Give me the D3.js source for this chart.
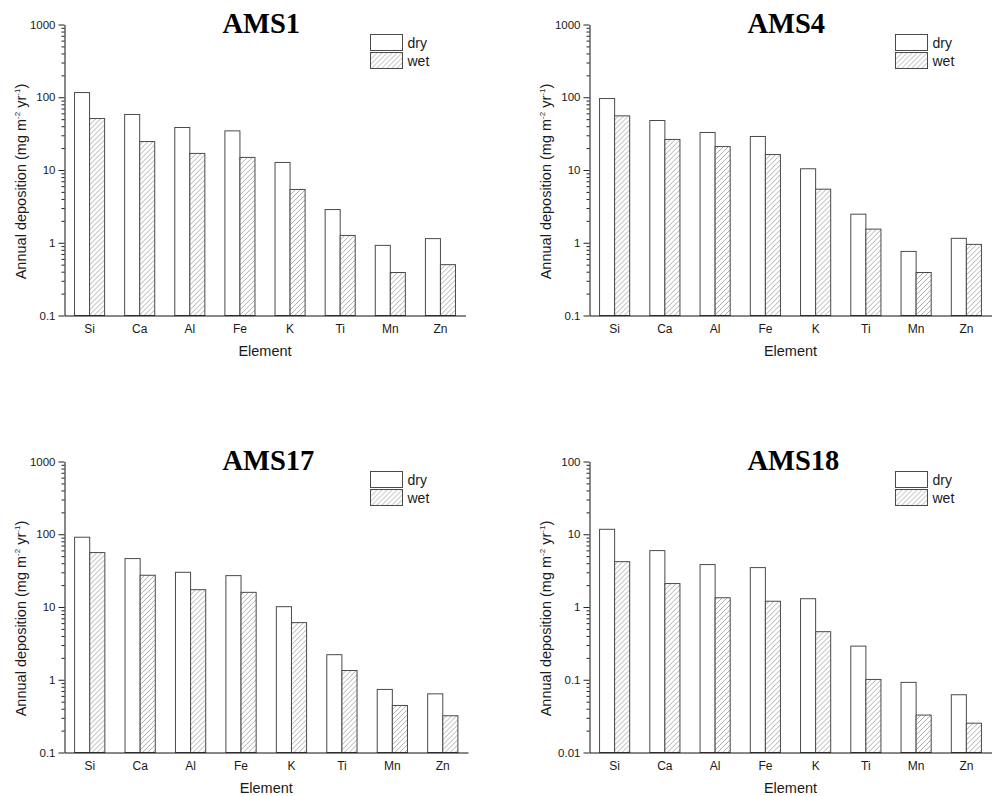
<!DOCTYPE html>
<html>
<head>
<meta charset="utf-8">
<script src="https://cdn.jsdelivr.net/npm/d3@7"></script>
<style>
  html, body { margin: 0; padding: 0; background: #fff; }
  svg { display: block; font-family: "Liberation Sans", Arial, sans-serif; }
</style>
</head>
<body>
<svg id="chart" width="994" height="796"></svg>
<script>
// Elements on the x axis and the two deposition types
const elements = ["Si", "Ca", "Al", "Fe", "K", "Ti", "Mn", "Zn"];
const seriesNames = ["dry", "wet"];
const stationNames = ["AMS1", "AMS4", "AMS17", "AMS18"];

// Annual deposition, mg m-2 yr-1
const ams1Dry  = [116, 58, 38.4, 34.5, 12.7, 2.86, 0.92, 1.14];
const ams1Wet  = [51, 24.6, 16.9, 14.9, 5.4, 1.26, 0.39, 0.50];
const ams4Dry  = [96, 47.9, 32.8, 28.9, 10.4, 2.47, 0.76, 1.15];
const ams4Wet  = [55.5, 26.3, 21, 16.3, 5.45, 1.54, 0.39, 0.95];
const ams17Dry = [91, 46.3, 30, 27, 10.1, 2.21, 0.736, 0.64];
const ams17Wet = [56, 27.3, 17.3, 15.9, 6.1, 1.34, 0.443, 0.32];
const ams18Dry = [11.7, 5.96, 3.83, 3.48, 1.3, 0.29, 0.092, 0.0622];
const ams18Wet = [4.2, 2.1, 1.34, 1.2, 0.458, 0.101, 0.0327, 0.0253];

// Major tick labels of the log axes
const yTicksA = [0.1, 1, 10, 100, 1000];
const yTicksB = [0.01, 0.1, 1, 10, 100];

const stationData = [
  { name: stationNames[0], dry: ams1Dry,  wet: ams1Wet,  ticks: yTicksA },
  { name: stationNames[1], dry: ams4Dry,  wet: ams4Wet,  ticks: yTicksA },
  { name: stationNames[2], dry: ams17Dry, wet: ams17Wet, ticks: yTicksA },
  { name: stationNames[3], dry: ams18Dry, wet: ams18Wet, ticks: yTicksB }
];

// Plot frames for the 2x2 grid
const frames = [
  { x0: 64.5,  x1: 465.5, y0: 24.5,  y1: 315.5 },
  { x0: 589.5, x1: 991.5, y0: 24.5,  y1: 315.5 },
  { x0: 64.5,  x1: 468,   y0: 461.5, y1: 752.5 },
  { x0: 589.5, x1: 991.5, y0: 461.5, y1: 752.5 }
];

const svg = d3.select("#chart");

// Diagonal hatch for the wet bars
const defs = svg.append("defs");
const pat = defs.append("pattern")
  .attr("id", "hatch")
  .attr("patternUnits", "userSpaceOnUse")
  .attr("width", 5).attr("height", 5);
pat.append("rect").attr("width", 5).attr("height", 5).attr("fill", "#fff");
pat.append("path")
  .attr("d", "M-1,6 L6,-1 M-1,1 L1,-1 M4,6 L6,4")
  .attr("stroke", "#9a9a9a").attr("stroke-width", 0.8);

const fillFor = s => s === "dry" ? "#fff" : "url(#hatch)";
const textColor = "#1a1a1a";
const barStroke = "#4a4a4a";

stationData.forEach((st, i) => {
  const f = frames[i];
  const g = svg.append("g");

  const x = d3.scaleBand().domain(elements).range([f.x0, f.x1]).paddingInner(0).paddingOuter(0);
  const xs = d3.scaleBand().domain(seriesNames).range([0, x.bandwidth()]).paddingInner(0).paddingOuter(0.667);
  const y = d3.scaleLog().domain([st.ticks[0], st.ticks[st.ticks.length - 1]]).range([f.y1, f.y0]);

  // bars
  const rows = elements.map((e, k) => ({ e, dry: st.dry[k], wet: st.wet[k] }));
  const grp = g.selectAll("g.el").data(rows).join("g").attr("class", "el")
    .attr("transform", d => `translate(${x(d.e)},0)`);
  grp.selectAll("rect").data(d => seriesNames.map(s => ({ s, v: d[s] }))).join("rect")
    .attr("x", d => xs(d.s))
    .attr("width", xs.bandwidth())
    .attr("y", d => y(d.v))
    .attr("height", d => f.y1 - y(d.v))
    .attr("fill", d => fillFor(d.s))
    .attr("stroke", barStroke)
    .attr("stroke-width", 1);

  // minor ticks
  const minor = [];
  for (let k = 0; k < st.ticks.length - 1; k++) {
    for (let m = 2; m <= 9; m++) minor.push(st.ticks[k] * m);
  }
  const minorAxis = g.append("g").attr("transform", `translate(${f.x0},0)`)
    .call(d3.axisLeft(y).tickValues(minor).tickSize(3).tickFormat(""));
  minorAxis.select(".domain").remove();
  minorAxis.selectAll("line").attr("stroke", "#222");

  // major ticks and y axis line
  const yAxis = g.append("g").attr("transform", `translate(${f.x0},0)`)
    .call(d3.axisLeft(y).tickValues(st.ticks).tickSize(6).tickSizeOuter(0).tickPadding(3)
      .tickFormat(d3.format("~g")));
  yAxis.select(".domain").attr("stroke", "#111");
  yAxis.selectAll("line").attr("stroke", "#222");
  yAxis.selectAll("text").attr("font-size", 11.5).attr("fill", textColor)
    .attr("font-family", "'Liberation Sans', Arial, sans-serif");

  // x axis line and category labels
  const xAxis = g.append("g").attr("transform", `translate(0,${f.y1})`)
    .call(d3.axisBottom(x).tickSize(0).tickSizeOuter(0).tickPadding(9));
  xAxis.select(".domain").attr("stroke", "#111");
  xAxis.selectAll("text").attr("font-size", 12).attr("fill", textColor)
    .attr("font-family", "'Liberation Sans', Arial, sans-serif");

  // x axis title
  g.append("text")
    .attr("x", (f.x0 + f.x1) / 2).attr("y", f.y1 + 40)
    .attr("text-anchor", "middle").attr("font-size", 14.5).attr("fill", textColor)
    .text("Element");

  // y axis title with superscripts
  const yt = g.append("text")
    .attr("transform", `translate(${f.x0 - 39},${f.y0 + 157}) rotate(-90)`)
    .attr("text-anchor", "middle").attr("font-size", 14.5).attr("fill", textColor);
  yt.append("tspan").text("Annual deposition (mg m");
  yt.append("tspan").attr("font-size", 8).attr("dy", -6).text("-2");
  yt.append("tspan").attr("dy", 6).text(" yr");
  yt.append("tspan").attr("font-size", 8).attr("dy", -6).text("-1");
  yt.append("tspan").attr("dy", 6).text(")");

  // station title
  g.append("text")
    .attr("x", f.x0 + 158).attr("y", f.y0 + 8)
    .attr("font-family", "'Liberation Serif', 'Times New Roman', serif")
    .attr("font-weight", "bold").attr("font-size", 28.5).attr("fill", "#000")
    .text(st.name);

  // legend
  const lg = g.append("g").attr("transform", `translate(${f.x0 + 306},${f.y0 + 10})`);
  seriesNames.forEach((s, k) => {
    lg.append("rect")
      .attr("x", 0).attr("y", k * 18).attr("width", 32).attr("height", 16)
      .attr("fill", fillFor(s)).attr("stroke", barStroke).attr("stroke-width", 1);
    lg.append("text")
      .attr("x", 37).attr("y", k * 18 + 13)
      .attr("font-size", 14).attr("fill", textColor)
      .text(s);
  });
});
</script>
</body>
</html>
